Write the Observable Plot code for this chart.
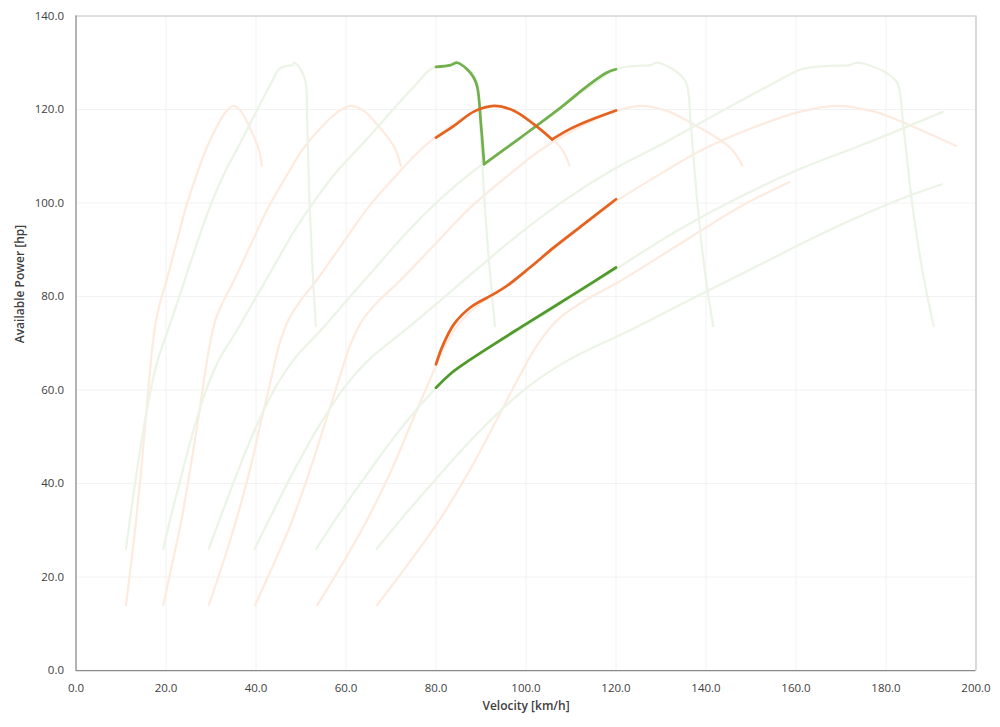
<!DOCTYPE html>
<html><head><meta charset="utf-8">
<script src="https://cdn.jsdelivr.net/npm/d3@7"></script>
<script src="https://cdn.jsdelivr.net/npm/@observablehq/plot@0.6"></script>
<style>body{margin:0;background:#fff;} #chart{width:1000px;height:727px;}</style>
</head><body><div id="chart"></div>
<script>
// ---- tick labels ----
const xTicks = [0, 20, 40, 60, 80, 100, 120, 140, 160, 180, 200];
const yTicks = [0, 20, 40, 60, 80, 100, 120, 140];
const xTitle = "Velocity [km/h]";
const yTitle = "Available Power [hp]";

// ---- faded gear curves, car A (orange) ----
const orangeG1V = [11.1,12.2,13.3,14.4,15.5,16.3,17.0,17.8,18.9,20.0,22.2,24.4,26.6,28.9,31.1,33.3,35.0,36.6,38.3,39.8,40.6,41.3];
const orangeG1P = [14,22.5,31.5,42,54,62.5,69.5,75,79.5,83,91,99,105.5,111.5,116,119.5,120.8,119.7,116.8,113.6,111.5,108];
const orangeG2V = [19.4,21.3,23.3,25.2,27.2,28.5,29.7,31.0,33.0,34.9,38.8,42.7,46.6,50.4,54.3,58.2,61.1,64.0,66.9,69.6,71.0,72.2];
const orangeG2P = [14,22.5,31.5,42,54,62.5,69.5,75,79.5,83,91,99,105.5,111.5,116,119.5,120.8,119.7,116.8,113.6,111.5,108];
const orangeG3V = [29.5,32.5,35.4,38.4,41.3,43.4,45.1,47.2,50.2,53.1,59.0,64.9,70.8,76.7,82.6,88.5,92.9,97.4,101.8,105.9,108.0,109.7];
const orangeG3P = [14,22.5,31.5,42,54,62.5,69.5,75,79.5,83,91,99,105.5,111.5,116,119.5,120.8,119.7,116.8,113.6,111.5,108];
const orangeG4V = [39.8,43.8,47.8,51.7,55.7,58.5,60.9,63.7,67.7,71.6,79.6,87.6,95.5,103.5,111.4,119.4,125.4,131.3,137.3,142.9,145.7,148.1];
const orangeG4P = [14,22.5,31.5,42,54,62.5,69.5,75,79.5,83,91,99,105.5,111.5,116,119.5,120.8,119.7,116.8,113.6,111.5,108];
const orangeG5V = [53.6,59.0,64.3,69.7,75.0,78.8,82.0,85.8,91.1,96.5,107.2,117.9,128.6,139.4,150.1,160.8,168.8,176.9,184.9,192.4,195.6];
const orangeG5P = [14,22.5,31.5,42,54,62.5,69.5,75,79.5,83,91,99,105.5,111.5,116,119.5,120.8,119.7,116.8,113.6,112.2];
const orangeG6V = [66.9,73.6,80.3,87.0,93.7,98.3,102.4,107.0,113.7,120.4,133.8,147.2,158.6];
const orangeG6P = [14,22.5,31.5,42,54,62.5,69.5,75,79.5,83,91,99,104.5];

// ---- faded gear curves, car B (green) ----
const greenG1V = [11.1,12.2,13.3,14.9,16.7,18.2,20.5,22.8,25.0,27.8,30.5,33.3,36.6,40.5,43.3,45.1,46.6,48.1,48.5,49.4,50.5,51.1,51.4,51.9,52.6,53.3];
const greenG1P = [26,33.8,41.2,51,60.5,66.5,73,79.5,86,94,101,107,113,120.4,125.5,128.6,129.3,129.5,130,129.3,127.5,125.5,117,100,85,73.7];
const greenG2V = [19.4,21.3,23.3,26.0,29.1,31.8,35.9,39.8,43.7,48.5,53.4,58.2,64.0,70.8,75.7,78.8,81.5,84.0,84.8,86.3,88.3,89.2,89.8,90.8,92.0,93.1];
const greenG2P = [26,33.8,41.2,51,60.5,66.5,73,79.5,86,94,101,107,113,120.4,125.5,128.6,129.3,129.5,130,129.3,127.5,125.5,117,100,85,73.7];
const greenG3V = [29.5,32.5,35.4,39.5,44.3,48.4,54.6,60.5,66.4,73.8,81.1,88.5,97.4,107.7,115.1,119.8,123.9,127.7,128.9,131.3,134.2,135.7,136.6,138.1,139.8,141.6];
const greenG3P = [26,33.8,41.2,51,60.5,66.5,73,79.5,86,94,101,107,113,120.4,125.5,128.6,129.3,129.5,130,129.3,127.5,125.5,117,100,85,73.7];
const greenG4V = [39.7,43.7,47.6,53.2,59.6,65.1,73.4,81.4,89.3,99.3,109.2,119.1,131.0,144.9,154.8,161.2,166.7,171.9,173.5,176.7,180.6,182.6,183.8,185.8,188.2,190.6];
const greenG4P = [26,33.8,41.2,51,60.5,66.5,73,79.5,86,94,101,107,113,120.4,125.5,128.6,129.3,129.5,130,129.3,127.5,125.5,117,100,85,73.7];
const greenG5V = [53.4,58.7,64.1,71.6,80.1,87.6,98.8,109.5,120.2,133.5,146.9,160.2,176.2,192.6];
const greenG5P = [26,33.8,41.2,51,60.5,66.5,73,79.5,86,94,101,107,113,119.5];
const greenG6V = [66.8,73.5,80.2,89.5,100.2,109.6,123.6,136.9,150.3,167.0,183.7,192.4];
const greenG6P = [26,33.8,41.2,51,60.5,66.5,73,79.5,86,94,101,104];

// ---- highlighted 80–120 km/h segments ----
const hlOrangeTopAV = [80,84,88.5,92.9,97.4,101.8,105.8];
const hlOrangeTopAP = [114,116.5,119.6,120.8,119.7,116.8,113.6];
const hlOrangeTopBV = [105.8,109.5,113.6,120];
const hlOrangeTopBP = [113.6,115.7,117.5,119.8];
const hlOrangeLowV = [80,81.5,84,87.7,92.8,95.8,101,106.2,113,120];
const hlOrangeLowP = [65.5,69.5,74.1,77.7,80.5,82.3,86.3,90.5,95.6,100.8];
const hlGreenTopAV = [80,83.2,84.7,86.9,88.4,89.2,90.0,90.7];
const hlGreenTopAP = [129.1,129.5,130,128.6,126.8,124.7,116.8,108.3];
const hlGreenTopBV = [90.7,98.8,107.7,113.6,118,120];
const hlGreenTopBP = [108.3,114,120.4,125,127.9,128.6];
const hlGreenLowV = [80,83.5,87.6,98.8,109.5,120];
const hlGreenLowP = [60.5,63.7,66.5,73.4,79.8,86.2];

// ---- build tables ----
function rows(key, vs, ps) { return vs.map((v, i) => ({key, v, p: ps[i]})); }
const fadedOrange = [
  ...rows("oG1", orangeG1V, orangeG1P), ...rows("oG2", orangeG2V, orangeG2P),
  ...rows("oG3", orangeG3V, orangeG3P), ...rows("oG4", orangeG4V, orangeG4P),
  ...rows("oG5", orangeG5V, orangeG5P), ...rows("oG6", orangeG6V, orangeG6P)
];
const fadedGreen = [
  ...rows("gG1", greenG1V, greenG1P), ...rows("gG2", greenG2V, greenG2P),
  ...rows("gG3", greenG3V, greenG3P), ...rows("gG4", greenG4V, greenG4P),
  ...rows("gG5", greenG5V, greenG5P), ...rows("gG6", greenG6V, greenG6P)
];
const hlOrange = [
  ...rows("oTA", hlOrangeTopAV, hlOrangeTopAP), ...rows("oTB", hlOrangeTopBV, hlOrangeTopBP),
  ...rows("oL", hlOrangeLowV, hlOrangeLowP)
];
const hlGreenTop = [...rows("gTA", hlGreenTopAV, hlGreenTopAP), ...rows("gTB", hlGreenTopBV, hlGreenTopBP)];
const hlGreenLow = rows("gL", hlGreenLowV, hlGreenLowP);

const curve = "catmull-rom";
const chart = Plot.plot({
  width: 1000, height: 727,
  marginLeft: 75.5, marginRight: 24.5, marginTop: 15.5, marginBottom: 57,
  style: {fontFamily: "'Open Sans', sans-serif", fontSize: "11.5px", color: "#404040", background: "#ffffff", overflow: "visible"},
  x: {domain: [0, 200]},
  y: {domain: [0, 140]},
  marks: [
    Plot.gridX(xTicks, {stroke: "#f2f2f2", strokeOpacity: 1}),
    Plot.gridY(yTicks, {stroke: "#f2f2f2", strokeOpacity: 1}),
    Plot.ruleY([140], {stroke: "#c6c6c6"}),
    Plot.ruleX([200], {stroke: "#d9d9d9", strokeWidth: 2}),
    Plot.line(fadedOrange, {x: "v", y: "p", z: "key", stroke: "#fdebe0", strokeWidth: 2.25, curve}),
    Plot.line(fadedGreen, {x: "v", y: "p", z: "key", stroke: "#ebf4e6", strokeWidth: 2.25, curve}),
    Plot.line(hlGreenTop, {x: "v", y: "p", z: "key", stroke: "#72b04e", strokeWidth: 2.75, curve}),
    Plot.line(hlGreenLow, {x: "v", y: "p", z: "key", stroke: "#4f9a2b", strokeWidth: 2.75, curve}),
    Plot.line(hlOrange, {x: "v", y: "p", z: "key", stroke: "#e5621f", strokeWidth: 2.75, curve}),
    Plot.ruleX([0], {stroke: "#8a8a8a", strokeWidth: 1.25}),
    Plot.ruleY([0], {stroke: "#8a8a8a", strokeWidth: 1.25}),
    Plot.axisX(xTicks, {tickSize: 0, tickPadding: 13, tickFormat: d => d.toFixed(1), label: null}),
    Plot.axisY(yTicks, {tickSize: 0, tickPadding: 12, tickFormat: d => d.toFixed(1), label: null}),
    Plot.text([xTitle], {text: d => d, frameAnchor: "bottom", dy: 39, fontSize: 12, fontWeight: 600, fill: "#404040"}),
    Plot.text([yTitle], {text: d => d, frameAnchor: "left", dx: -55.5, rotate: -90, fontSize: 12, fontWeight: 600, fill: "#404040"})
  ]
});
document.getElementById("chart").appendChild(chart);
</script>
</body></html>
